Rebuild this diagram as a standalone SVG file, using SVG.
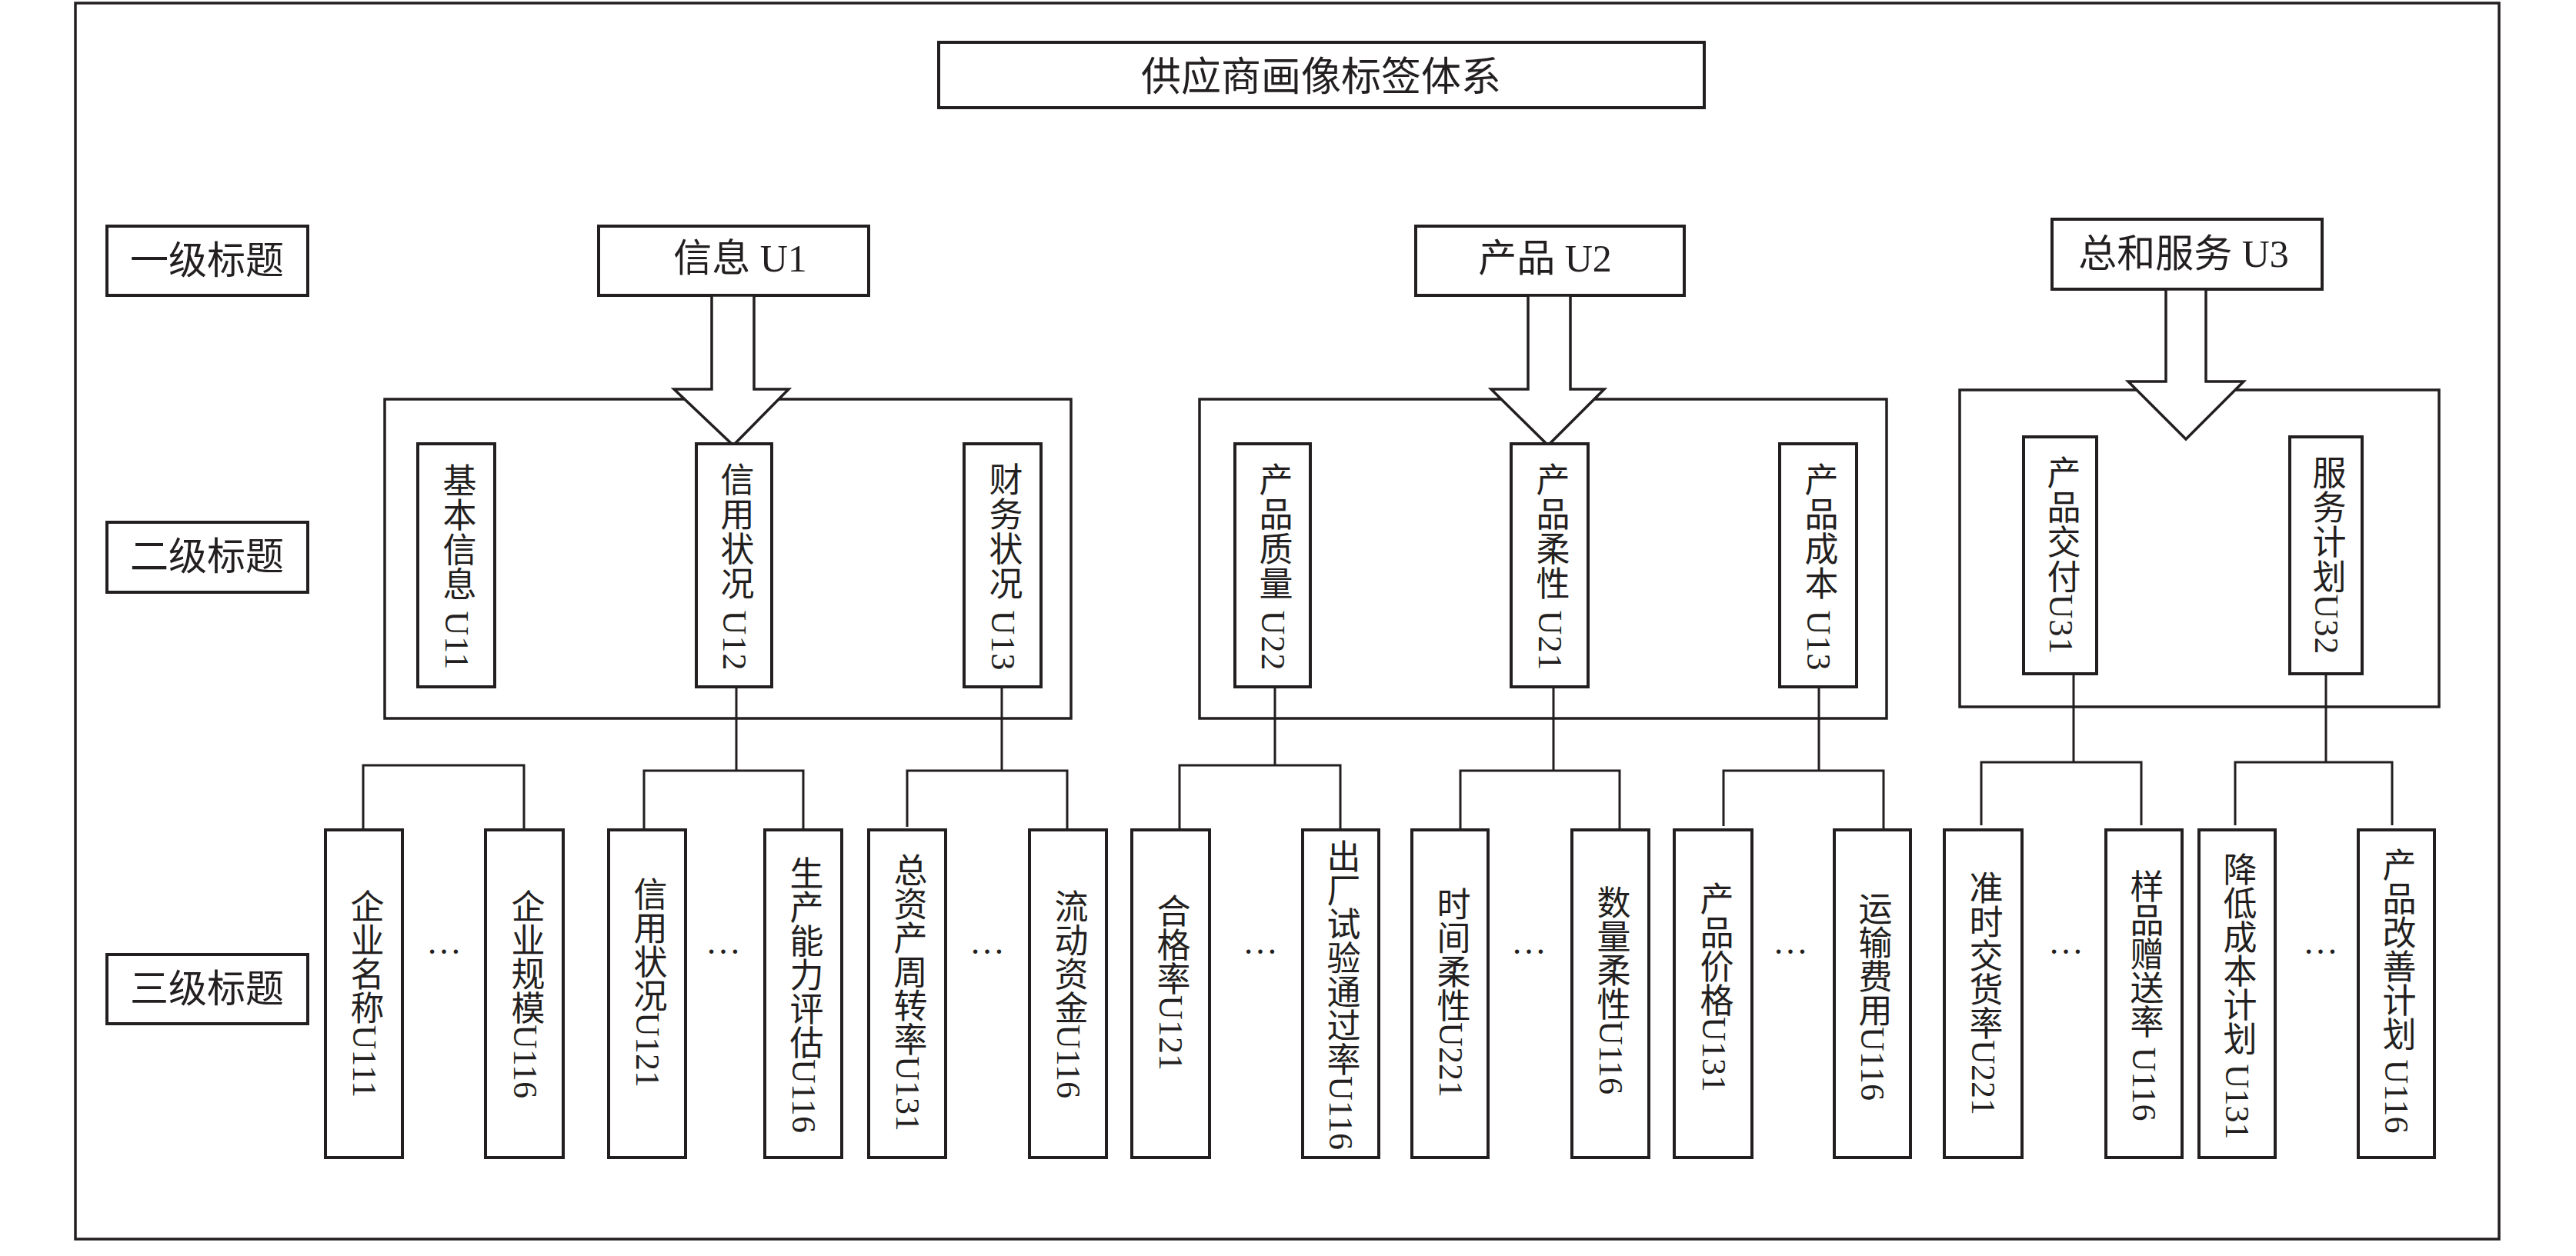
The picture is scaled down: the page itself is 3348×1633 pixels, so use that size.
<svg xmlns="http://www.w3.org/2000/svg" width="3348" height="1633" viewBox="0 0 3348 1633">
<style>
  .box { fill: #ffffff; stroke: #231f20; stroke-width: 4; }
  .frame { fill: none; stroke: #231f20; stroke-width: 3.5; }
  .cont { fill: none; stroke: #231f20; stroke-width: 3.5; }
  .ln { fill: none; stroke: #231f20; stroke-width: 3; }
  .arrow { fill: #ffffff; stroke: #231f20; stroke-width: 3.5; stroke-linejoin: miter; }
  text { font-family: 'Liberation Serif', 'Noto Sans CJK SC', serif; fill: #231f20; }
  .h { font-size: 50px; text-anchor: middle; dominant-baseline: central; }
  .t { font-size: 52px; text-anchor: middle; dominant-baseline: central; }
  .v2 { font-size: 44px; letter-spacing: 1px; writing-mode: vertical-rl; text-anchor: middle; }
  .v3 { font-size: 44px; writing-mode: vertical-rl; text-anchor: middle; }
  .dots { font-size: 46px; text-anchor: middle; }
</style>

<rect class="frame" x="98" y="4" width="3150" height="1607"/>

<g id="title">
  <rect class="box" x="1220" y="55" width="995" height="85"/>
  <text class="t" x="1717" y="100">供应商画像标签体系</text>
</g>

<g id="label-l1">
  <rect class="box" x="139" y="294" width="261" height="90"/>
  <text class="h" x="269" y="339">一级标题</text>
</g>
<g id="label-l2">
  <rect class="box" x="139" y="679" width="261" height="91"/>
  <text class="h" x="269" y="724">二级标题</text>
</g>
<g id="label-l3">
  <rect class="box" x="139" y="1241" width="261" height="90"/>
  <text class="h" x="269" y="1286">三级标题</text>
</g>

<!-- containers -->
<g id="container-u1"><rect class="cont" x="500" y="519" width="892" height="415"/></g>
<g id="container-u2"><rect class="cont" x="1559" y="519" width="893" height="415"/></g>
<g id="container-u3"><rect class="cont" x="2547" y="507" width="623" height="412"/></g>

<g id="u1">
  <rect class="box" x="778" y="294" width="351" height="90"/>
  <text class="h" x="962" y="336">信息 U1</text>
</g>
<g id="u2">
  <rect class="box" x="1840" y="294" width="349" height="90"/>
  <text class="h" x="2008" y="336">产品 U2</text>
</g>
<g id="u3">
  <rect class="box" x="2667" y="285" width="351" height="91"/>
  <text class="h" x="2838" y="330">总和服务 U3</text>
</g>

<g id="connectors">
  <!-- block arrows -->
  <path class="arrow" d="M925,384 L925,506 L876,506 L953,579 L1025,506 L980,506 L980,384 Z"/>
  <path class="arrow" d="M1986,384 L1986,506 L1938,506 L2012,579 L2085,506 L2041,506 L2041,384 Z"/>
  <path class="arrow" d="M2815,376 L2815,496 L2766,496 L2841,571 L2916,496 L2867,496 L2867,376 Z"/>

  <!-- group A -->
  <path class="ln" d="M472,1079 L472,995 L681,995 L681,1079"/>
  <!-- group B -->
  <path class="ln" d="M957,893 L957,1002 M837,1079 L837,1002 L1044,1002 L1044,1079"/>
  <!-- group C -->
  <path class="ln" d="M1302,893 L1302,1002 M1179,1075 L1179,1002 L1387,1002 L1387,1079"/>
  <!-- group D -->
  <path class="ln" d="M1657,893 L1657,995 M1533,1083 L1533,995 L1742,995 L1742,1079"/>
  <!-- group E -->
  <path class="ln" d="M2019,893 L2019,1002 M1898,1079 L1898,1002 L2105,1002 L2105,1079"/>
  <!-- group F -->
  <path class="ln" d="M2364,893 L2364,1002 M2240,1074 L2240,1002 L2448,1002 L2448,1079"/>
  <!-- group G -->
  <path class="ln" d="M2695,876 L2695,991 M2575,1073 L2575,991 L2783,991 L2783,1073"/>
  <!-- group H -->
  <path class="ln" d="M3023,876 L3023,991 M2905,1073 L2905,991 L3109,991 L3109,1073"/>
</g>

<!-- level 2 -->
<g id="u11"><rect class="box" x="543" y="577" width="100" height="316"/><text class="v2" x="593" y="737">基本信息 U11</text></g>
<g id="u12"><rect class="box" x="905" y="577" width="98" height="316"/><text class="v2" x="954" y="737">信用状况 U12</text></g>
<g id="u13a"><rect class="box" x="1253" y="577" width="100" height="316"/><text class="v2" x="1303" y="737">财务状况 U13</text></g>
<g id="u22"><rect class="box" x="1605" y="577" width="98" height="316"/><text class="v2" x="1654" y="737">产品质量 U22</text></g>
<g id="u21"><rect class="box" x="1964" y="577" width="100" height="316"/><text class="v2" x="2014" y="737">产品柔性 U21</text></g>
<g id="u13b"><rect class="box" x="2313" y="577" width="100" height="316"/><text class="v2" x="2363" y="737">产品成本 U13</text></g>
<g id="u31"><rect class="box" x="2630" y="568" width="95" height="308"/><text class="v2" x="2678" y="722">产品交付U31</text></g>
<g id="u32"><rect class="box" x="2976" y="568" width="94" height="308"/><text class="v2" x="3023" y="722">服务计划U32</text></g>

<!-- level 3 -->
<g id="u111"><rect class="box" x="423" y="1079" width="100" height="426"/><text class="v3" x="473" y="1292">企业名称U111</text></g>
<g id="u116a"><rect class="box" x="631" y="1079" width="101" height="426"/><text class="v3" x="682" y="1292">企业规模U116</text></g>
<g id="u121a"><rect class="box" x="791" y="1079" width="100" height="426"/><text class="v3" x="841" y="1277">信用状况U121</text></g>
<g id="u116b"><rect class="box" x="994" y="1079" width="100" height="426"/><text class="v3" x="1044" y="1293">生产能力评估U116</text></g>
<g id="u131a"><rect class="box" x="1129" y="1079" width="100" height="426"/><text class="v3" x="1179" y="1290">总资产周转率U131</text></g>
<g id="u116c"><rect class="box" x="1338" y="1079" width="100" height="426"/><text class="v3" x="1388" y="1292">流动资金U116</text></g>
<g id="u121b"><rect class="box" x="1471" y="1079" width="101" height="426"/><text class="v3" x="1521" y="1277">合格率U121</text></g>
<g id="u116d"><rect class="box" x="1693" y="1079" width="99" height="426"/><text class="v3" x="1742" y="1293">出厂试验通过率U116</text></g>
<g id="u221a"><rect class="box" x="1835" y="1079" width="99" height="426"/><text class="v3" x="1885" y="1290">时间柔性U221</text></g>
<g id="u116e"><rect class="box" x="2043" y="1079" width="100" height="426"/><text class="v3" x="2093" y="1287">数量柔性U116</text></g>
<g id="u131b"><rect class="box" x="2176" y="1079" width="101" height="426"/><text class="v3" x="2227" y="1283">产品价格U131</text></g>
<g id="u116f"><rect class="box" x="2384" y="1079" width="99" height="426"/><text class="v3" x="2433" y="1295">运输费用U116</text></g>
<g id="u221b"><rect class="box" x="2527" y="1079" width="101" height="426"/><text class="v3" x="2577" y="1291">准时交货率U221</text></g>
<g id="u116g"><rect class="box" x="2737" y="1079" width="99" height="426"/><text class="v3" x="2786" y="1294">样品赠送率 U116</text></g>
<g id="u131c"><rect class="box" x="2858" y="1079" width="99" height="426"/><text class="v3" x="2907" y="1295">降低成本计划 U131</text></g>
<g id="u116h"><rect class="box" x="3065" y="1079" width="99" height="426"/><text class="v3" x="3114" y="1288">产品改善计划 U116</text></g>

<g id="ellipses">
  <text class="dots" x="577" y="1240">…</text>
  <text class="dots" x="940" y="1240">…</text>
  <text class="dots" x="1283" y="1240">…</text>
  <text class="dots" x="1638" y="1240">…</text>
  <text class="dots" x="1987" y="1240">…</text>
  <text class="dots" x="2327" y="1240">…</text>
  <text class="dots" x="2685" y="1240">…</text>
  <text class="dots" x="3016" y="1240">…</text>
</g>
</svg>
